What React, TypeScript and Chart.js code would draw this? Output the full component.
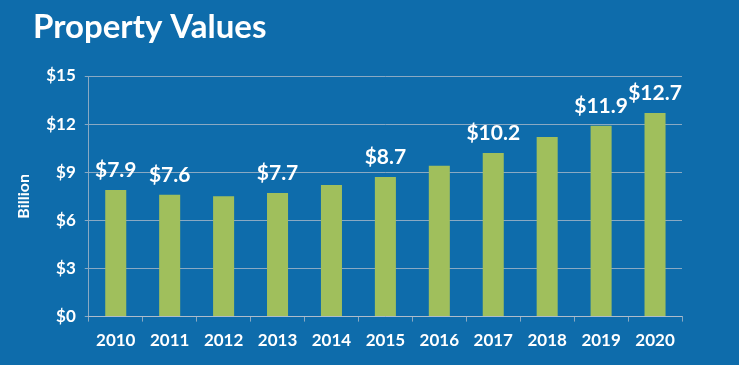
import React, { useEffect, useRef } from "react";
import { Chart, registerables } from "chart.js";

Chart.register(...registerables);

const years = ["2010", "2011", "2012", "2013", "2014", "2015", "2016", "2017", "2018", "2019", "2020"];
const values = [7.9, 7.6, 7.5, 7.7, 8.2, 8.7, 9.4, 10.2, 11.2, 11.9, 12.7];
const valueLabels = ["$7.9", "$7.6", null, "$7.7", null, "$8.7", null, "$10.2", null, "$11.9", "$12.7"];
const titleText = "Property Values";
const yAxisTitle = "Billion";

const BG = "#0e6cab";
const BAR = "#a0bf5c";
const GRID = "rgba(190,195,205,0.7)";
const FONT = "Lato, 'Open Sans', sans-serif";

const overlay = {
  id: "overlay",
  afterDatasetsDraw(chart: any) {
    const ctx = chart.ctx;
    const meta = chart.getDatasetMeta(0);
    ctx.save();
    ctx.fillStyle = "#ffffff";
    ctx.textAlign = "center";
    ctx.textBaseline = "alphabetic";
    ctx.font = `bold 21px ${FONT}`;
    meta.data.forEach((bar: any, i: number) => {
      const t = valueLabels[i];
      if (t) ctx.fillText(t, bar.x, bar.y - 13);
    });
    ctx.textAlign = "left";
    ctx.font = `bold 33px ${FONT}`;
    ctx.fillText(titleText, 33, 38);
    ctx.restore();
  },
};

export default function App() {
  const ref = useRef<HTMLCanvasElement>(null);
  useEffect(() => {
    document.body.style.margin = "0";
    const chart = new Chart(ref.current!, {
      type: "bar",
      data: {
        labels: years,
        datasets: [
          {
            data: values,
            backgroundColor: BAR,
            barPercentage: 0.78,
            categoryPercentage: 0.5,
          },
        ],
      },
      options: {
        animation: false,
        responsive: false,
        layout: { padding: { top: 76, left: 10, right: 57, bottom: 5 } },
        plugins: { legend: { display: false }, tooltip: { enabled: false } },
        scales: {
          x: {
            grid: { color: GRID, drawOnChartArea: false, tickLength: 5, offset: true },
            border: { color: GRID },
            ticks: { color: "#ffffff", font: { family: FONT, weight: "bold", size: 17 }, padding: 9 },
          },
          y: {
            min: 0,
            max: 15,
            ticks: {
              stepSize: 3,
              color: "#ffffff",
              font: { family: FONT, weight: "bold", size: 17 },
              padding: 9,
              callback: (v: any) => "$" + v,
            },
            grid: { color: GRID, tickLength: 4 },
            border: { color: GRID },
            title: {
              display: true,
              text: yAxisTitle,
              color: "#ffffff",
              font: { family: FONT, weight: "bold", size: 16 },
              padding: { top: 4, bottom: 4 },
            },
          },
        },
      },
      plugins: [overlay],
    });
    return () => chart.destroy();
  }, []);
  return (
    <div style={{ width: 739, height: 365, background: BG }}>
      <canvas ref={ref} width={739} height={365} />
    </div>
  );
}
